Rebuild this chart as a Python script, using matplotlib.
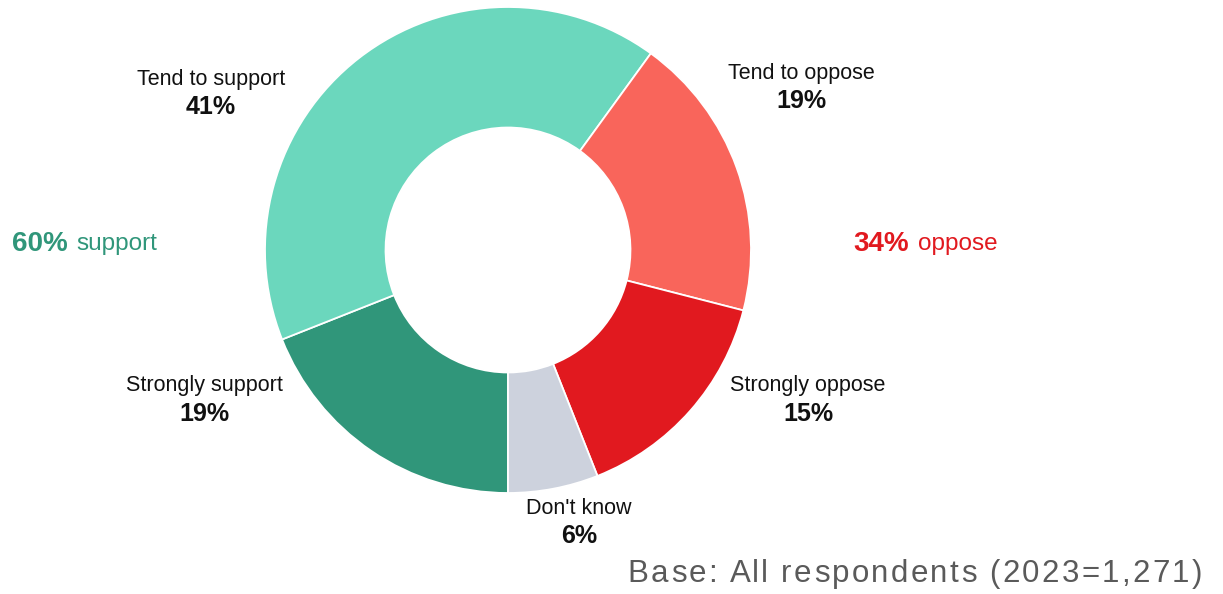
import matplotlib
matplotlib.use("Agg")
import matplotlib.pyplot as plt
from matplotlib.font_manager import FontProperties

# Survey responses, drawn clockwise from the bottom of the ring
categories = ["Strongly support", "Tend to support", "Tend to oppose", "Strongly oppose", "Don't know"]
values = [19, 41, 19, 15, 6]
colors = ["#30967A", "#6BD7BD", "#F9655B", "#E1191F", "#CDD2DD"]

net_support = 60
net_oppose = 34
base_note = "Base: All respondents (2023=1,271)"

W, H = 1223, 594
plt.rcParams["font.family"] = ["Liberation Sans", "DejaVu Sans"]

fig = plt.figure(figsize=(W / 100, H / 100), dpi=100)
ax = fig.add_axes([0, 0, 1, 1])

cx, cy, r = 508, H - 250, 243
wedges, _ = ax.pie(
    values,
    colors=colors,
    startangle=-90,
    counterclock=False,
    center=(cx, cy),
    radius=r,
    wedgeprops=dict(width=r * 0.496, edgecolor="white", linewidth=1.3),
)
ax.set_xlim(0, W)
ax.set_ylim(0, H)
ax.set_aspect("equal")
ax.axis("off")

# Segment labels: name on top, bold share underneath
label_pos = {
    "Tend to support": (211, 79),
    "Tend to oppose": (801, 73),
    "Strongly support": (204, 386),
    "Strongly oppose": (808, 386),
    "Don't know": (579, 508),
}
for cat, val in zip(categories, values):
    x, y = label_pos[cat]
    ax.text(x, H - y, cat, ha="center", va="center", fontsize=15.5, color="#111111")
    ax.text(x, H - (y + 28), f"{val}%", ha="center", va="center",
            fontsize=18, fontweight="bold", color="#111111")

# Net totals on either side of the ring
sup_color, opp_color = colors[0], colors[3]
ax.text(12, H - 244, f"{net_support}%", ha="left", va="center",
        fontsize=20, fontweight="bold", color=sup_color)
ax.text(76, H - 244, "support", ha="left", va="center", fontsize=17.5, color=sup_color)
ax.text(853, H - 244, f"{net_oppose}%", ha="left", va="center",
        fontsize=20, fontweight="bold", color=opp_color)
ax.text(918, H - 244, "oppose", ha="left", va="center", fontsize=17.5, color=opp_color)


def tracked_text(s, x_right, y, size, color, tracking):
    """Right-aligned text with extra spacing between characters."""
    renderer = fig.canvas.get_renderer()
    prop = FontProperties(family=["Liberation Sans", "DejaVu Sans"], size=size)

    def width(t):
        w, _, _ = renderer.get_text_width_height_descent(t, prop, ismath=False)
        return w

    ref = width("x")

    def advance(t):
        return width(t + "x") - ref if t else 0.0

    total = advance(s) + tracking * (len(s) - 1)
    x0 = x_right - total
    for i, ch in enumerate(s):
        if ch == " ":
            continue
        ax.text(x0 + advance(s[:i]) + tracking * i, y, ch, ha="left", va="center",
                fontproperties=prop, color=color)


tracked_text(base_note, 1202, H - 574, 22.5, "#5A5A5A", 2.3)

fig.savefig("out.png", dpi=100)
